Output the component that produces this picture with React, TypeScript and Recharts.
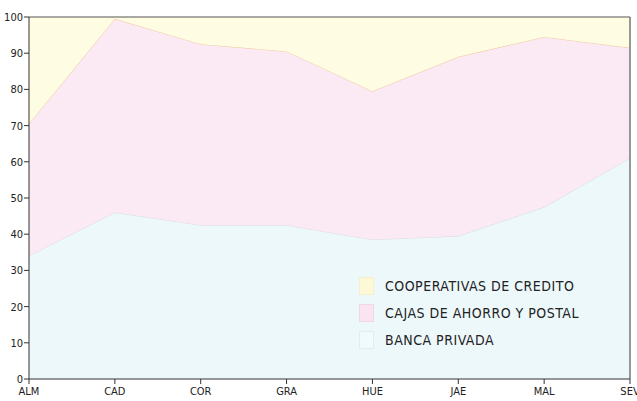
import React from 'react';
import { AreaChart, Area, XAxis, YAxis, ReferenceLine } from 'recharts';

const categories = ['ALM', 'CAD', 'COR', 'GRA', 'HUE', 'JAE', 'MAL', 'SEV'];
const bancaPrivada = [34, 46, 42.5, 42.5, 38.5, 39.5, 47.5, 61];
const cajasAhorroPostal = [36.5, 53.5, 50, 48, 41, 49.5, 47, 30.5];
const cooperativasCredito = [29.5, 0.5, 7.5, 9.5, 20.5, 11, 5.5, 8.5];
const yTicks = [0, 10, 20, 30, 40, 50, 60, 70, 80, 90, 100];

const data = categories.map((c, i) => ({
  cat: c,
  banca: bancaPrivada[i],
  cajas: cajasAhorroPostal[i],
  coop: cooperativasCredito[i],
}));

const COLORS = { coop: '#fefce2', cajas: '#fbe9f4', banca: '#edf8fb' };
const FONT = '"DejaVu Sans Condensed", "Liberation Sans Narrow", sans-serif';

const legendItems = [
  { key: 'coop', label: 'COOPERATIVAS DE CREDITO', fill: '#fdf9d8', border: '#f6f0c8' },
  { key: 'cajas', label: 'CAJAS DE AHORRO Y POSTAL', fill: '#fae4f0', border: '#f3d6e6' },
  { key: 'banca', label: 'BANCA PRIVADA', fill: '#f1fafc', border: '#e2edf2' },
];

export default function App() {
  return (
    <div style={{ position: 'fixed', left: 0, top: 0, width: 637, height: 401, background: '#fff' }}>
      <AreaChart width={637} height={401} data={data} margin={{ top: 17, right: 7, left: 0, bottom: 0 }}>
        <XAxis
          dataKey="cat"
          interval={0}
          tickSize={5}
          tickMargin={3}
          height={22}
          padding={{ left: 0, right: 0 }}
          stroke="#333"
          tick={{ fontSize: 11, fill: '#222', fontFamily: FONT }}
        />
        <YAxis
          type="number"
          domain={[0, 100]}
          ticks={yTicks}
          width={29}
          tickSize={5}
          tickMargin={1}
          interval={0}
          stroke="#333"
          tick={{ fontSize: 11, fill: '#222', fontFamily: FONT }}
        />
        <Area
          type="linear"
          dataKey="banca"
          stackId="1"
          fill={COLORS.banca}
          fillOpacity={1}
          stroke="#d3dbe2"
          strokeWidth={1}
          isAnimationActive={false}
        />
        <Area
          type="linear"
          dataKey="cajas"
          stackId="1"
          fill={COLORS.cajas}
          fillOpacity={1}
          stroke="#f0c69a"
          strokeWidth={1}
          isAnimationActive={false}
        />
        <Area
          type="linear"
          dataKey="coop"
          stackId="1"
          fill={COLORS.coop}
          fillOpacity={1}
          stroke="none"
          isAnimationActive={false}
        />
        <ReferenceLine y={100} stroke="#555" strokeWidth={1.2} />
        <ReferenceLine x="SEV" stroke="#555" strokeWidth={1.2} />
      </AreaChart>
      <div style={{ position: 'absolute', left: 359, top: 272, fontFamily: FONT }}>
        {legendItems.map((it) => (
          <div key={it.key} style={{ display: 'flex', alignItems: 'center', height: 27 }}>
            <div
              style={{
                width: 13,
                height: 16,
                background: it.fill,
                border: '1px solid ' + it.border,
                marginRight: 11,
              }}
            />
            <span style={{ fontSize: 14, color: '#222', letterSpacing: 0.5, whiteSpace: 'nowrap' }}>{it.label}</span>
          </div>
        ))}
      </div>
    </div>
  );
}
